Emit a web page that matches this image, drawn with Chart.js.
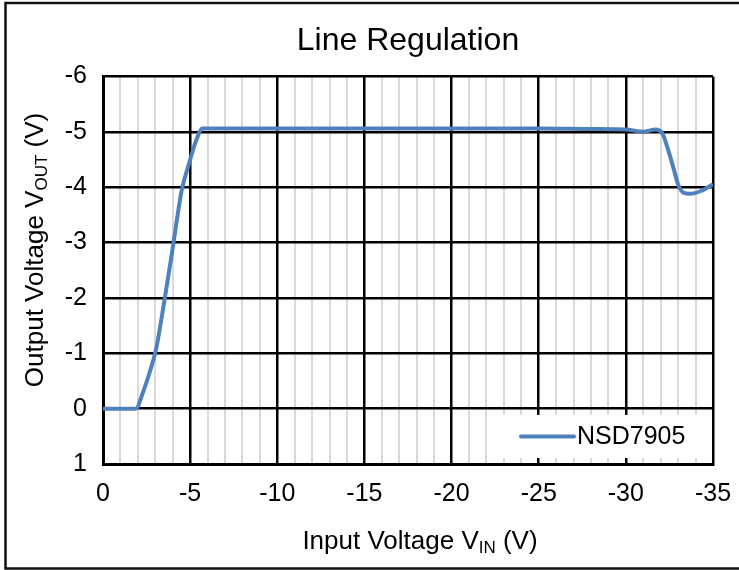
<!DOCTYPE html>
<html>
<head>
<meta charset="utf-8">
<script src="https://cdn.jsdelivr.net/npm/chart.js@4/dist/chart.umd.min.js"></script>
<style>
  html, body { margin: 0; padding: 0; background: #fff; overflow: hidden; }
  #wrap { position: absolute; left: 0; top: 0; width: 739px; height: 570px; }
</style>
</head>
<body>
<div id="wrap"><canvas id="lineReg"></canvas></div>
<script>
// Input voltage (V) and output voltage (V)
const vIn  = [0, -1.0, -1.88, -2.3, -2.7, -3.05, -3.3, -3.6, -4.0, -4.52, -4.94, -5.33, -5.71,
              -6, -10, -15, -20, -25, -28, -30, -31.0, -31.7, -32.1, -32.4, -32.7, -33.0, -33.3, -33.7, -34.3, -35];
const vOut = [0, 0, 0, -0.3, -0.68, -1.08, -1.52, -2.1, -2.9, -3.95, -4.43, -4.83, -5.06,
              -5.06, -5.06, -5.06, -5.06, -5.06, -5.05, -5.04, -5.0, -5.04, -4.97, -4.7, -4.38, -4.05, -3.9, -3.88, -3.93, -4.05];
const seriesName = 'NSD7905';
const xMajorStep = 5;

const FONT = '"Liberation Sans", Arial, sans-serif';
const BLUE = '#4F81BD';

const points = vIn.map((x, i) => ({ x: x, y: vOut[i] }));

// axis titles with subscripts, legend box and outer frame
const extras = {
    id: 'extras',
    afterDatasetsDraw(chart) {
        const ctx = chart.ctx;
        const a = chart.chartArea;
        ctx.save();

        // legend
        const lx = a.left + 385, ly = a.bottom - 49, lw = a.right - 2 - lx, lh = 43;
        ctx.fillStyle = '#fff';
        ctx.fillRect(lx, ly, lw, lh);
        const cy = ly + lh / 2;
        ctx.strokeStyle = BLUE;
        ctx.lineWidth = 4;
        ctx.lineCap = 'round';
        ctx.beginPath();
        ctx.moveTo(lx + 33, cy);
        ctx.lineTo(lx + 86, cy);
        ctx.stroke();
        ctx.fillStyle = '#000';
        ctx.font = '25px ' + FONT;
        ctx.textBaseline = 'middle';
        ctx.textAlign = 'left';
        ctx.fillText(seriesName, lx + 89, cy + 1);

        // x axis title
        drawSub(ctx, 'Input Voltage V', 'IN', ' (V)', (a.left + a.right) / 2 + 12, 549);

        // y axis title
        ctx.translate(43, 250);
        ctx.rotate(-Math.PI / 2);
        drawSub(ctx, 'Output Voltage V', 'OUT', ' (V)', 0, 0);
        ctx.restore();

        // outer frame
        ctx.save();
        ctx.strokeStyle = '#111';
        ctx.lineWidth = 2.5;
        ctx.strokeRect(5.5, 3, 800, 565.5);
        ctx.restore();
    }
};

function drawSub(ctx, main, sub, tail, cx, baseY) {
    const big = '26px ' + FONT, small = '17px ' + FONT;
    ctx.font = big;
    const w1 = ctx.measureText(main).width;
    const w3 = ctx.measureText(tail).width;
    ctx.font = small;
    const w2 = ctx.measureText(sub).width;
    let x = cx - (w1 + w2 + w3) / 2;
    ctx.fillStyle = '#000';
    ctx.textAlign = 'left';
    ctx.textBaseline = 'alphabetic';
    ctx.font = big;
    ctx.fillText(main, x, baseY);
    x += w1;
    ctx.font = small;
    ctx.fillText(sub, x, baseY + 4);
    x += w2;
    ctx.font = big;
    ctx.fillText(tail, x, baseY);
}

new Chart(document.getElementById('lineReg'), {
    type: 'scatter',
    data: {
        datasets: [{
            label: seriesName,
            data: points,
            showLine: true,
            borderColor: BLUE,
            borderWidth: 4,
            pointRadius: 0,
            cubicInterpolationMode: 'monotone'
        }]
    },
    options: {
        responsive: true,
        maintainAspectRatio: false,
        animation: false,
        layout: { padding: { left: 0, right: 26, top: 0, bottom: 0 } },
        plugins: {
            legend: { display: false },
            tooltip: { enabled: false },
            title: {
                display: true,
                fullSize: false,
                text: 'Line Regulation',
                color: '#000',
                font: { family: FONT, size: 32, weight: 'normal' },
                padding: { top: 22, bottom: 16 }
            }
        },
        scales: {
            x: {
                type: 'linear',
                reverse: true,
                min: -35,
                max: 0,
                afterFit: s => { s.height = 106; s.paddingLeft = 0; s.paddingRight = 0; },
                border: { display: true, color: '#000', width: 3 },
                grid: {
                    drawTicks: false,
                    color: c => (c.tick && c.tick.value % xMajorStep === 0) ? '#000' : '#d9d9d9',
                    lineWidth: c => (c.tick && c.tick.value % xMajorStep === 0) ? 2.5 : 2
                },
                ticks: {
                    stepSize: 1,
                    autoSkip: false,
                    maxRotation: 0,
                    padding: 15,
                    color: '#000',
                    font: { family: FONT, size: 25 },
                    callback: v => (v % xMajorStep === 0 ? String(v) : '')
                }
            },
            y: {
                type: 'linear',
                reverse: true,
                min: -6,
                max: 1,
                afterFit: s => { s.width = 103; },
                border: { display: true, color: '#000', width: 3 },
                grid: { drawTicks: false, color: '#000', lineWidth: 2.5 },
                ticks: {
                    stepSize: 1,
                    padding: 16,
                    color: '#000',
                    font: { family: FONT, size: 25 },
                    callback: v => String(v)
                }
            }
        }
    },
    plugins: [extras]
});
</script>
</body>
</html>
